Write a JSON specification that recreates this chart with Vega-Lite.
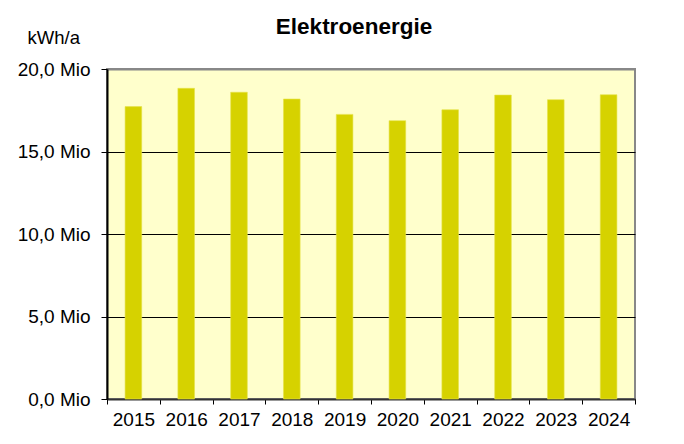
{
  "$schema": "https://vega.github.io/schema/vega-lite/v6.json",
  "width": 528,
  "height": 330,
  "autosize": "none",
  "padding": {"left": 107, "top": 69, "right": 49, "bottom": 45},
  "background": "#FFFFFF",
  "title": {
    "text": "Elektroenergie",
    "anchor": "middle",
    "frame": "group",
    "dx": -17,
    "offset": -28,
    "baseline": "alphabetic",
    "font": "Liberation Sans",
    "fontSize": 22.5,
    "fontWeight": "bold",
    "color": "#000000"
  },
  "data": {
    "values": [
      {"Jahr": "2015", "kWh": 17720000},
      {"Jahr": "2016", "kWh": 18830000},
      {"Jahr": "2017", "kWh": 18590000},
      {"Jahr": "2018", "kWh": 18180000},
      {"Jahr": "2019", "kWh": 17250000},
      {"Jahr": "2020", "kWh": 16870000},
      {"Jahr": "2021", "kWh": 17530000},
      {"Jahr": "2022", "kWh": 18420000},
      {"Jahr": "2023", "kWh": 18140000},
      {"Jahr": "2024", "kWh": 18440000}
    ]
  },
  "mark": {"type": "bar", "color": "#D6D200", "stroke": "#E6E24A", "strokeWidth": 0.6, "width": {"band": 0.315}},
  "encoding": {
    "x": {
      "field": "Jahr",
      "type": "ordinal",
      "scale": {"paddingInner": 0, "paddingOuter": 0},
      "axis": {
        "title": null,
        "labelAngle": 0,
        "tickBand": "extent",
        "tickSize": 5,
        "tickColor": "#000000",
        "tickWidth": 1,
        "domainColor": "#333333",
        "domainWidth": 2,
        "labelFont": "Liberation Sans",
        "labelFontSize": 19,
        "labelColor": "#000000",
        "labelPadding": 6,
        "grid": false
      }
    },
    "y": {
      "field": "kWh",
      "type": "quantitative",
      "scale": {"domain": [0, 20000000], "nice": false},
      "axis": {
        "values": [0, 5000000, 10000000, 15000000, 20000000],
        "labelExpr": "replace(format(datum.value / 1000000, '.1f'), '.', ',') + ' Mio'",
        "labelFont": "Liberation Sans",
        "labelFontSize": 19,
        "labelColor": "#000000",
        "labelPadding": 11,
        "tickSize": 6,
        "tickColor": "#000000",
        "domainColor": "#000000",
        "domainWidth": 2,
        "grid": true,
        "gridColor": {"condition": {"test": "datum.value >= 20000000", "value": "#888888"}, "value": "#000000"},
        "gridWidth": {"condition": {"test": "datum.value >= 20000000", "value": 2}, "value": 1},
        "gridOpacity": 1,
        "title": "kWh/a",
        "titleAngle": 0,
        "titleAlign": "left",
        "titleBaseline": "alphabetic",
        "titleX": -80,
        "titleY": -26,
        "titleFont": "Liberation Sans",
        "titleFontSize": 18.5,
        "titleFontWeight": "normal",
        "titleColor": "#000000"
      }
    }
  },
  "config": {
    "view": {"fill": "#FFFFCC", "stroke": "#888888", "strokeWidth": 2}
  }
}
